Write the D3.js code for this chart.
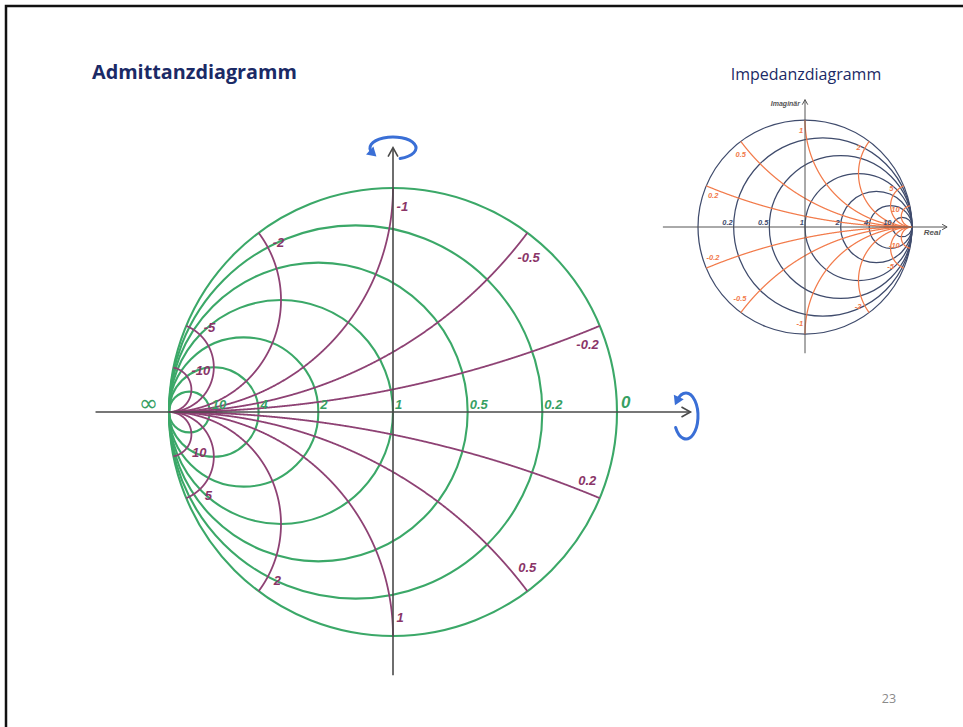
<!DOCTYPE html>
<html>
<head>
<meta charset="utf-8">
<script src="https://cdn.jsdelivr.net/npm/d3@7"></script>
<style>
  body { margin: 0; background: #ffffff; }
  svg { display: block; }
</style>
</head>
<body>
<svg id="slide" width="963" height="727"></svg>
<script>
// ---- Admittance chart (Y): conductance circles and susceptance arcs ----
const conductanceValues = [0, 0.2, 0.5, 1, 2, 4, 10];
const conductanceLabels = ["0", "0.2", "0.5", "1", "2", "4", "10"];
const infinityLabel = "∞";
const susceptanceValues = [-10, -5, -2, -1, -0.5, -0.2, 0.2, 0.5, 1, 2, 5, 10];
const susceptanceLabels = ["-10", "-5", "-2", "-1", "-0.5", "-0.2", "0.2", "0.5", "1", "2", "5", "10"];

// ---- Impedance chart (Z): resistance circles and reactance arcs ----
const resistanceValues = [0, 0.2, 0.5, 1, 2, 4, 10];
const resistanceLabels = ["", "0.2", "0.5", "1", "2", "4", "10"];
const reactanceValues = [-10, -5, -2, -1, -0.5, -0.2, 0.2, 0.5, 1, 2, 5, 10];
const reactanceLabels = ["-10", "-5", "-2", "-1", "-0.5", "-0.2", "0.2", "0.5", "1", "2", "5", "10"];

// ---- Slide texts ----
const slideTitle = "Admittanzdiagramm";
const insetTitle = "Impedanzdiagramm";
const axisLabelImag = "Imaginär";
const axisLabelReal = "Real";
const pageNumber = "23";

const svg = d3.select("#slide");
const LABEL_FONT = "'Liberation Sans', Arial, sans-serif";
const SLIDE_FONT = "'Open Sans', Lato, sans-serif";

// slide frame
svg.append("rect")
  .attr("x", 6).attr("y", 6).attr("width", 1000).attr("height", 1000)
  .attr("fill", "none").attr("stroke", "#111").attr("stroke-width", 2.5);

svg.append("text")
  .attr("x", 92).attr("y", 79)
  .attr("font-family", SLIDE_FONT)
  .attr("font-weight", 700).attr("font-size", 19.8)
  .attr("fill", "#1b2a66")
  .text(slideTitle);

svg.append("text")
  .attr("x", 806).attr("y", 80).attr("text-anchor", "middle")
  .attr("font-family", SLIDE_FONT)
  .attr("font-size", 16)
  .attr("fill", "#1b2a66")
  .text(insetTitle);

svg.append("text")
  .attr("x", 889).attr("y", 703).attr("text-anchor", "middle")
  .attr("font-family", SLIDE_FONT)
  .attr("font-size", 12.5)
  .attr("fill", "#8a8a8a")
  .text(pageNumber);

// reflection coefficient for a normalised value re + j*im
// Z chart: (z-1)/(z+1); Y chart: (1-y)/(1+y)
function gammaOf(re, im, kind) {
  const d = (re + 1) * (re + 1) + im * im;
  const u = (re * re - 1 + im * im) / d;
  const v = 2 * im / d;
  return kind === "Y" ? [-u, -v] : [u, v];
}

// sample parameter for the real part, 0 .. very large
const realSamples = d3.range(0, 1, 1 / 900).map(t => t / (1 - t));

function drawSmith(cfg) {
  const k = cfg.kind === "Y" ? -1 : 1;
  const x = d3.scaleLinear().domain([-1, 1]).range([cfg.cx - cfg.R, cfg.cx + cfg.R]);
  const y = d3.scaleLinear().domain([-1, 1]).range([cfg.cy + cfg.R, cfg.cy - cfg.R]);
  const unit = x(1) - x(0);
  const g = svg.append("g");

  // real-part circles, all tangent at the same rim point
  g.append("g").selectAll("circle")
    .data(cfg.reValues)
    .join("circle")
    .attr("cx", d => x(k * d / (1 + d)))
    .attr("cy", y(0))
    .attr("r", d => unit / (1 + d))
    .attr("fill", "none")
    .attr("stroke", cfg.reColor)
    .attr("stroke-width", cfg.reWidth);

  // imaginary-part arcs
  const line = d3.line().x(p => x(p[0])).y(p => y(p[1]));
  const arcPoints = im => realSamples.map(a => gammaOf(a, im, cfg.kind)).concat([[k, 0]]);
  g.append("g").selectAll("path")
    .data(cfg.imValues)
    .join("path")
    .attr("d", d => line(arcPoints(d)))
    .attr("fill", "none")
    .attr("stroke", cfg.imColor)
    .attr("stroke-width", cfg.imWidth);

  // axes with open arrow heads
  const ax = g.append("g").attr("stroke", cfg.axisColor).attr("stroke-width", cfg.axisWidth)
    .attr("fill", "none");
  const hx0 = x(-cfg.axisExt), hx1 = x(cfg.axisExt), vy0 = y(-cfg.axisDown), vy1 = y(cfg.axisUp);
  ax.append("line").attr("x1", hx0).attr("x2", hx1).attr("y1", y(0)).attr("y2", y(0));
  ax.append("line").attr("x1", x(0)).attr("x2", x(0)).attr("y1", vy0).attr("y2", vy1);
  const ah = cfg.arrow;
  ax.append("path").attr("d", `M${hx1 - ah},${y(0) - ah * 0.55}L${hx1},${y(0)}L${hx1 - ah},${y(0) + ah * 0.55}`);
  ax.append("path").attr("d", `M${x(0) - ah * 0.55},${vy1 + ah}L${x(0)},${vy1}L${x(0) + ah * 0.55},${vy1 + ah}`);

  // real-part labels where each circle crosses the horizontal axis
  g.append("g").selectAll("text")
    .data(cfg.reValues.map((v, i) => ({ v, label: cfg.reLabels[i] })).filter(d => d.label !== ""))
    .join("text")
    .attr("x", d => {
      const cross = x(-k * (1 - d.v) / (1 + d.v));
      return cross + cfg.reLabelDx * (d.v === 0 ? 2 : 1);
    })
    .attr("y", d => y(0) - (d.v === 0 ? cfg.reLabelDy + 1 : cfg.reLabelDy))
    .attr("text-anchor", cfg.reAnchor)
    .attr("font-family", LABEL_FONT)
    .attr("font-style", "italic")
    .attr("font-weight", 700)
    .attr("font-size", d => (d.v === 0 ? cfg.reZeroSize : cfg.reLabelSize))
    .attr("fill", cfg.reLabelColor)
    .text(d => d.label);

  // imaginary-part labels: a short way in from the rim, just outside each arc
  const labelG = g.append("g");
  cfg.imValues.forEach((b, i) => {
    const pts = arcPoints(b).map(p => [x(p[0]), y(p[1])]);
    const E = pts[0];
    const s = cfg.labelAlong;
    const P = pts.find(p => Math.hypot(p[0] - E[0], p[1] - E[1]) >= s) || pts[pts.length - 1];
    const C = [x(k * 1), y(k / b)];
    let nx = P[0] - C[0], ny = P[1] - C[1];
    const nl = Math.hypot(nx, ny);
    nx /= nl; ny /= nl;
    const t = labelG.append("text")
      .attr("text-anchor", "middle")
      .attr("dominant-baseline", "central")
      .attr("font-family", LABEL_FONT)
      .attr("font-style", "italic")
      .attr("font-weight", 700)
      .attr("font-size", cfg.imLabelSize)
      .attr("fill", cfg.imLabelColor)
      .text(cfg.imLabels[i]);
    const bb = t.node().getBBox();
    const half = Math.abs(nx) * bb.width / 2 + Math.abs(ny) * cfg.imLabelSize * 0.36;
    const off = cfg.labelGap + half;
    t.attr("x", P[0] + off * nx).attr("y", P[1] + off * ny);
  });

  return { x, y, g };
}

// main admittance chart
const main = drawSmith({
  kind: "Y", cx: 393, cy: 412, R: 224,
  reValues: conductanceValues, reLabels: conductanceLabels,
  imValues: susceptanceValues, imLabels: susceptanceLabels,
  reColor: "#3ba868", reWidth: 2.1,
  imColor: "#8e4274", imWidth: 1.8,
  axisColor: "#4a4a4a", axisWidth: 1.6,
  axisExt: 1.328, axisUp: 1.18, axisDown: 1.175, arrow: 9,
  reLabelDx: 2, reLabelDy: 3, reAnchor: "start",
  reLabelSize: 13, reZeroSize: 17, reLabelColor: "#37a063",
  imLabelSize: 13, imLabelColor: "#8a3568",
  labelAlong: 18, labelGap: 4
});

// infinity label beside the short-circuit point
svg.append("text")
  .attr("x", main.x(-1) - 11).attr("y", main.y(0) - 1)
  .attr("text-anchor", "end")
  .attr("font-family", "'DejaVu Sans', sans-serif")
  .attr("font-style", "italic")
  .attr("font-size", 23)
  .attr("fill", "#37a063")
  .text(infinityLabel);

// small impedance chart
const inset = drawSmith({
  kind: "Z", cx: 805, cy: 227, R: 107,
  reValues: resistanceValues, reLabels: resistanceLabels,
  imValues: reactanceValues, imLabels: reactanceLabels,
  reColor: "#3f4b6c", reWidth: 1.25,
  imColor: "#f27b4b", imWidth: 1.25,
  axisColor: "#555555", axisWidth: 1,
  axisExt: 1.328, axisUp: 1.19, axisDown: 1.18, arrow: 5,
  reLabelDx: -1, reLabelDy: 2, reAnchor: "end",
  reLabelSize: 7.5, reZeroSize: 7.5, reLabelColor: "#3f4b6c",
  imLabelSize: 7.5, imLabelColor: "#f27b4b",
  labelAlong: 10, labelGap: 2
});

svg.append("text")
  .attr("x", inset.x(0) - 5).attr("y", inset.y(1.135))
  .attr("text-anchor", "end")
  .attr("font-family", LABEL_FONT).attr("font-style", "italic").attr("font-weight", 700)
  .attr("font-size", 7).attr("fill", "#555")
  .text(axisLabelImag);

svg.append("text")
  .attr("x", inset.x(1.11)).attr("y", inset.y(-0.075))
  .attr("font-family", LABEL_FONT).attr("font-style", "italic").attr("font-weight", 700)
  .attr("font-size", 8).attr("fill", "#555")
  .text(axisLabelReal);

// blue rotation arrows: elliptical arcs ending in a filled head
function rotationArrow(cx, cy, rx, ry, startDeg, endDeg) {
  const rad = Math.PI / 180;
  const p = a => [cx + rx * Math.cos(a * rad), cy + ry * Math.sin(a * rad)];
  const S = p(startDeg), E = p(endDeg);
  const sweep = ((startDeg - endDeg) % 360 + 360) % 360;
  const large = sweep > 180 ? 1 : 0;
  const col = "#3a6fd6";
  svg.append("path")
    .attr("d", `M${S[0]},${S[1]}A${rx},${ry} 0 ${large} 0 ${E[0]},${E[1]}`)
    .attr("fill", "none").attr("stroke", col).attr("stroke-width", 3)
    .attr("stroke-linecap", "round");
  // direction of travel at the end (angle decreasing)
  let tx = rx * Math.sin(endDeg * rad), ty = -ry * Math.cos(endDeg * rad);
  const tl = Math.hypot(tx, ty); tx /= tl; ty /= tl;
  const L = 9, W = 5.5;
  const tip = [E[0] + tx * 5, E[1] + ty * 5];
  const base = [tip[0] - tx * L, tip[1] - ty * L];
  svg.append("path")
    .attr("d", `M${tip[0]},${tip[1]}L${base[0] - ty * W},${base[1] + tx * W}L${base[0] + ty * W},${base[1] - tx * W}Z`)
    .attr("fill", col);
}
rotationArrow(main.x(0), 148, 23, 11, 72, 152);
rotationArrow(686, main.y(0) + 4, 12, 23, 150, 222);
</script>
</body>
</html>
